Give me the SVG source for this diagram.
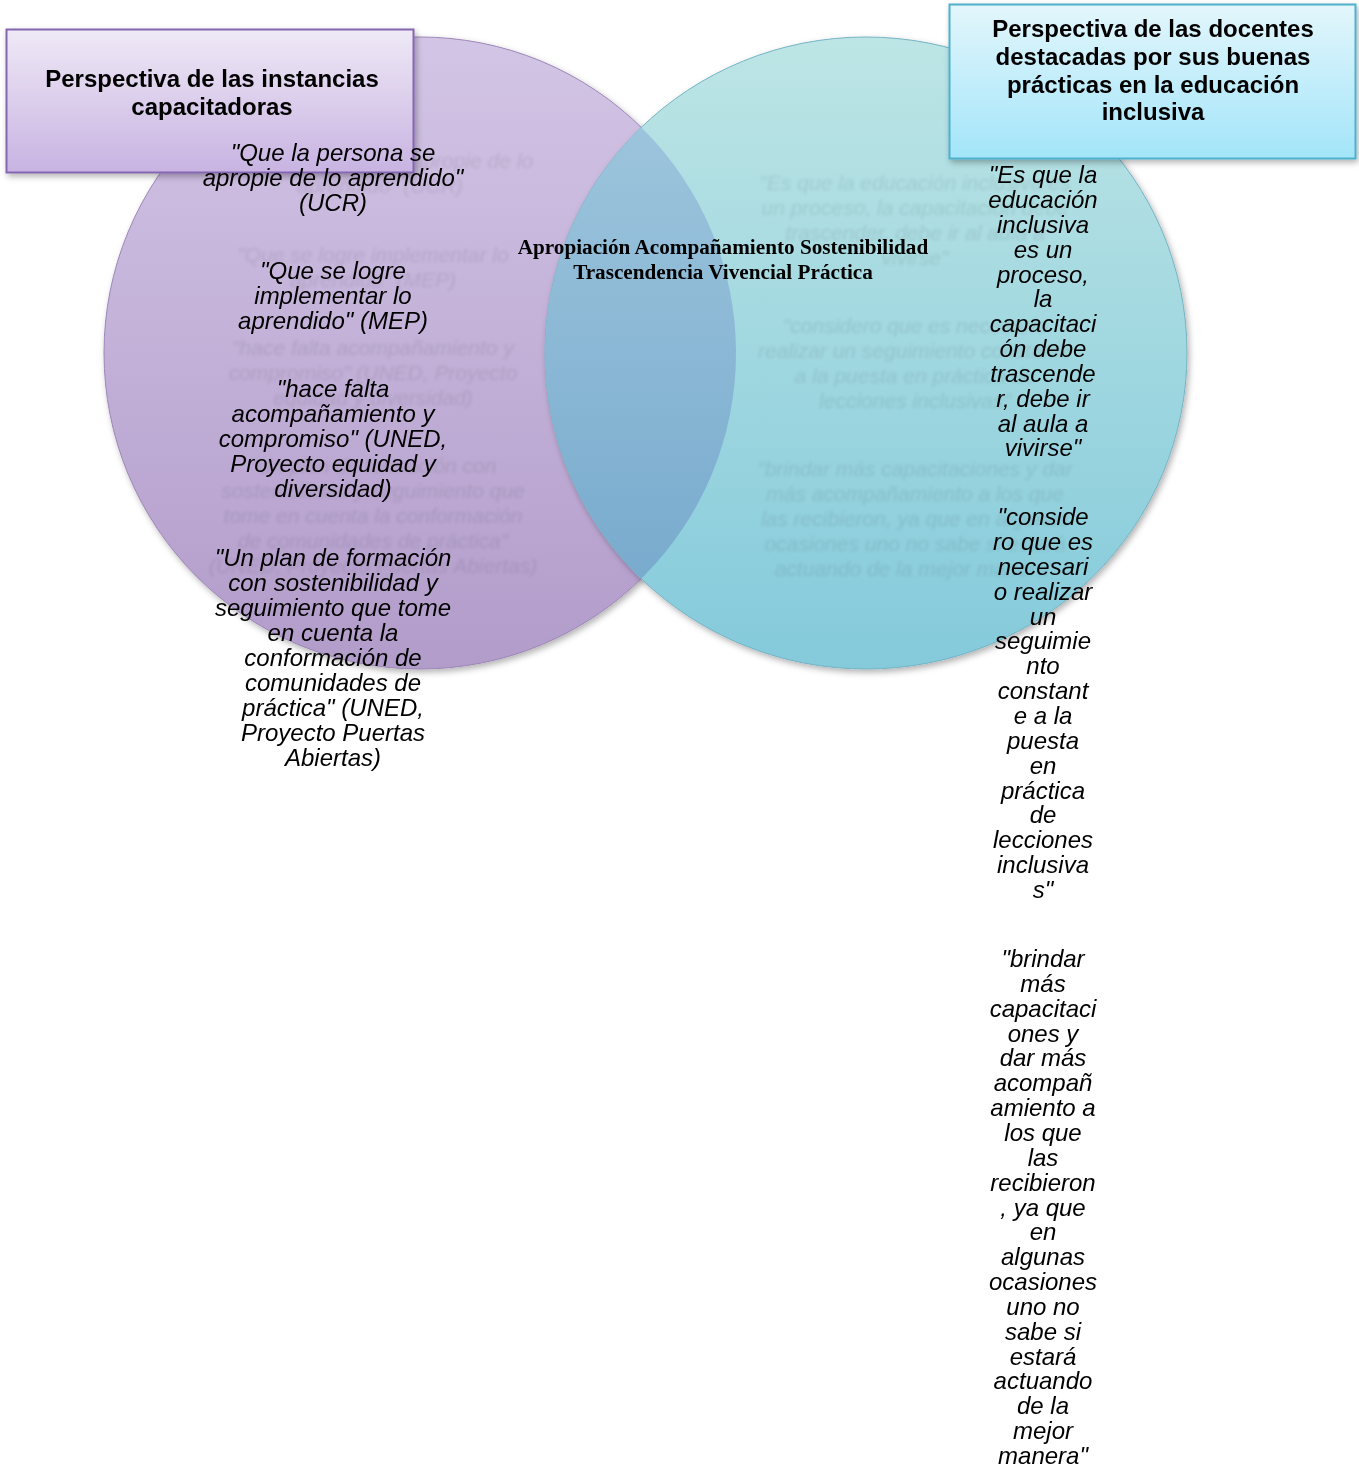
<svg xmlns="http://www.w3.org/2000/svg" width="1359" height="1467" viewBox="0 0 1359 1467">
<defs>
<linearGradient id="gL" x1="0" y1="0" x2="0" y2="1"><stop offset="0" stop-color="#d3c5e6"/><stop offset="1" stop-color="#b29cca"/></linearGradient>
<linearGradient id="gR" x1="0" y1="0" x2="0" y2="1"><stop offset="0" stop-color="#bde5e5"/><stop offset="1" stop-color="#84cadb"/></linearGradient>
<linearGradient id="gO" x1="0" y1="0" x2="0" y2="1"><stop offset="0" stop-color="#a3c9df"/><stop offset="1" stop-color="#72a6cb"/></linearGradient>
<linearGradient id="gBL" x1="0" y1="0" x2="0" y2="1"><stop offset="0" stop-color="#efe9f6"/><stop offset="1" stop-color="#c8b3e2"/></linearGradient>
<linearGradient id="gBR" x1="0" y1="0" x2="0" y2="1"><stop offset="0" stop-color="#e3f6fc"/><stop offset="1" stop-color="#a3e5f9"/></linearGradient>
<clipPath id="cL"><ellipse cx="420" cy="353" rx="316" ry="316"/></clipPath>
<filter id="sh" x="-10%" y="-10%" width="120%" height="120%"><feDropShadow dx="2" dy="3" stdDeviation="3" flood-color="#000" flood-opacity="0.3"/></filter>
<filter id="bl"><feGaussianBlur stdDeviation="1.8"/></filter>
</defs>
<style>
.q{font-family:"Liberation Sans",Arial,sans-serif;font-style:italic;font-size:24px;fill:#000;text-anchor:middle}
.g{font-family:"Liberation Sans",Arial,sans-serif;font-style:italic;font-size:21px;fill:#000;text-anchor:middle;opacity:0.09}
.t{font-family:"Liberation Sans",Arial,sans-serif;font-weight:bold;font-size:24px;fill:#000;text-anchor:middle}
.c{font-family:"Liberation Serif","Times New Roman",serif;font-weight:bold;font-size:21.2px;fill:#000;text-anchor:middle}
</style>
<g id="circle-left"><ellipse cx="420" cy="353" rx="316" ry="316" fill="url(#gL)" stroke="#9c86b8" stroke-width="1" filter="url(#sh)"/></g>
<g id="circle-right"><ellipse cx="866" cy="353" rx="321" ry="316" fill="url(#gR)" stroke="#74b3c4" stroke-width="1" filter="url(#sh)"/>
<ellipse cx="866" cy="353" rx="321" ry="316" fill="url(#gO)" clip-path="url(#cL)"/></g>
<g id="ghost-text" filter="url(#bl)">
<text class="g" x="380" y="168">"Que la persona se apropie de lo</text>
<text class="g" x="380" y="193">aprendido" (UCR)</text>
<text class="g" x="373" y="262">"Que se logre implementar lo</text>
<text class="g" x="373" y="287">aprendido" (MEP)</text>
<text class="g" x="373" y="355">"hace falta acompañamiento y</text>
<text class="g" x="373" y="380">compromiso" (UNED, Proyecto</text>
<text class="g" x="373" y="405">equidad y diversidad)</text>
<text class="g" x="373" y="473">"Un plan de formación con</text>
<text class="g" x="373" y="498">sostenibilidad y seguimiento que</text>
<text class="g" x="373" y="523">tome en cuenta la conformación</text>
<text class="g" x="373" y="548">de comunidades de práctica"</text>
<text class="g" x="373" y="573">(UNED, Proyecto Puertas Abiertas)</text>
<text class="g" x="915" y="190">"Es que la educación inclusiva es</text>
<text class="g" x="915" y="215">un proceso, la capacitación debe</text>
<text class="g" x="915" y="240">trascender, debe ir al aula a</text>
<text class="g" x="915" y="265">vivirse"</text>
<text class="g" x="915" y="333">"considero que es necesario</text>
<text class="g" x="915" y="358">realizar un seguimiento constante</text>
<text class="g" x="915" y="383">a la puesta en práctica de</text>
<text class="g" x="915" y="408">lecciones inclusivas"</text>
<text class="g" x="915" y="476">"brindar más capacitaciones y dar</text>
<text class="g" x="915" y="501">más acompañamiento a los que</text>
<text class="g" x="915" y="526">las recibieron, ya que en algunas</text>
<text class="g" x="915" y="551">ocasiones uno no sabe si estará</text>
<text class="g" x="915" y="576">actuando de la mejor manera"</text>
</g>
<g id="box-left"><rect x="6.5" y="29.5" width="407" height="143" fill="url(#gBL)" stroke="#8566b0" stroke-width="2" filter="url(#sh)"/>
<text class="t" x="212" y="87">Perspectiva de las instancias</text>
<text class="t" x="212" y="115">capacitadoras</text></g>
<g id="box-right"><rect x="949.5" y="4.5" width="406" height="154" fill="url(#gBR)" stroke="#4fb0cc" stroke-width="2" filter="url(#sh)"/>
<text class="t" x="1153" y="37">Perspectiva de las docentes</text>
<text class="t" x="1153" y="65">destacadas por sus buenas</text>
<text class="t" x="1153" y="93">prácticas en la educación</text>
<text class="t" x="1153" y="120">inclusiva</text></g>
<g id="quotes-left">
<text class="q" x="333" y="161">"Que la persona se</text>
<text class="q" x="333" y="186">apropie de lo aprendido"</text>
<text class="q" x="333" y="211">(UCR)</text>
<text class="q" x="333" y="279">"Que se logre</text>
<text class="q" x="333" y="304">implementar lo</text>
<text class="q" x="333" y="329">aprendido" (MEP)</text>
<text class="q" x="333" y="397">"hace falta</text>
<text class="q" x="333" y="422">acompañamiento y</text>
<text class="q" x="333" y="447">compromiso" (UNED,</text>
<text class="q" x="333" y="472">Proyecto equidad y</text>
<text class="q" x="333" y="497">diversidad)</text>
<text class="q" x="333" y="566">"Un plan de formación</text>
<text class="q" x="333" y="591">con sostenibilidad y</text>
<text class="q" x="333" y="616">seguimiento que tome</text>
<text class="q" x="333" y="641">en cuenta la</text>
<text class="q" x="333" y="666">conformación de</text>
<text class="q" x="333" y="691">comunidades de</text>
<text class="q" x="333" y="716">práctica" (UNED,</text>
<text class="q" x="333" y="741">Proyecto Puertas</text>
<text class="q" x="333" y="766">Abiertas)</text>
</g>
<g id="quotes-right">
<text class="q" x="1043" y="183">"Es que la</text>
<text class="q" x="1043" y="208">educación</text>
<text class="q" x="1043" y="233">inclusiva</text>
<text class="q" x="1043" y="258">es un</text>
<text class="q" x="1043" y="283">proceso,</text>
<text class="q" x="1043" y="307">la</text>
<text class="q" x="1043" y="332">capacitaci</text>
<text class="q" x="1043" y="357">ón debe</text>
<text class="q" x="1043" y="382">trascende</text>
<text class="q" x="1043" y="407">r, debe ir</text>
<text class="q" x="1043" y="432">al aula a</text>
<text class="q" x="1043" y="456">vivirse"</text>
<text class="q" x="1043" y="525">"conside</text>
<text class="q" x="1043" y="550">ro que es</text>
<text class="q" x="1043" y="575">necesari</text>
<text class="q" x="1043" y="600">o realizar</text>
<text class="q" x="1043" y="625">un</text>
<text class="q" x="1043" y="649">seguimie</text>
<text class="q" x="1043" y="674">nto</text>
<text class="q" x="1043" y="699">constant</text>
<text class="q" x="1043" y="724">e a la</text>
<text class="q" x="1043" y="749">puesta</text>
<text class="q" x="1043" y="774">en</text>
<text class="q" x="1043" y="799">práctica</text>
<text class="q" x="1043" y="823">de</text>
<text class="q" x="1043" y="848">lecciones</text>
<text class="q" x="1043" y="873">inclusiva</text>
<text class="q" x="1043" y="898">s"</text>
<text class="q" x="1043" y="967">"brindar</text>
<text class="q" x="1043" y="992">más</text>
<text class="q" x="1043" y="1017">capacitaci</text>
<text class="q" x="1043" y="1042">ones y</text>
<text class="q" x="1043" y="1066">dar más</text>
<text class="q" x="1043" y="1091">acompañ</text>
<text class="q" x="1043" y="1116">amiento a</text>
<text class="q" x="1043" y="1141">los que</text>
<text class="q" x="1043" y="1166">las</text>
<text class="q" x="1043" y="1191">recibieron</text>
<text class="q" x="1043" y="1216">, ya que</text>
<text class="q" x="1043" y="1240">en</text>
<text class="q" x="1043" y="1265">algunas</text>
<text class="q" x="1043" y="1290">ocasiones</text>
<text class="q" x="1043" y="1315">uno no</text>
<text class="q" x="1043" y="1340">sabe si</text>
<text class="q" x="1043" y="1365">estará</text>
<text class="q" x="1043" y="1389">actuando</text>
<text class="q" x="1043" y="1414">de la</text>
<text class="q" x="1043" y="1439">mejor</text>
<text class="q" x="1043" y="1464">manera"</text>
</g>
<g id="center">
<text class="c" x="723" y="254">Apropiación Acompañamiento Sostenibilidad</text>
<text class="c" x="723" y="279">Trascendencia Vivencial Práctica</text>
</g>
</svg>
